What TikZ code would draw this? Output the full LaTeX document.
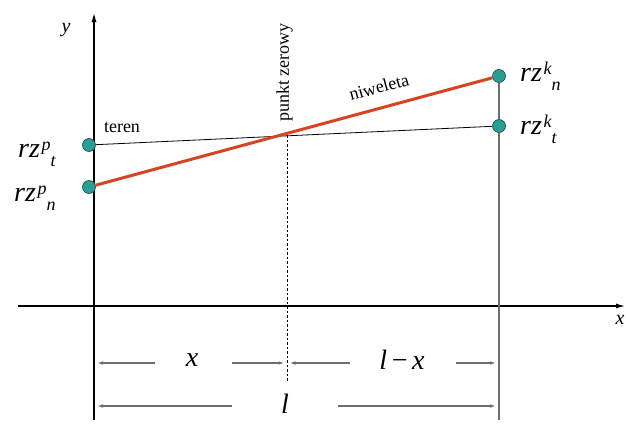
\documentclass[tikz,border=0pt]{standalone}
\usepackage{fontspec}
\setmainfont{Liberation Serif}[ItalicFont={Liberation Serif Italic}]
\newfontfamily\timesit{Liberation Serif Italic}
\usetikzlibrary{arrows.meta}
\definecolor{dotfill}{RGB}{40,158,148}
\definecolor{dotline}{RGB}{30,70,70}
\definecolor{nivred}{RGB}{215,68,35}
\definecolor{dimgray}{RGB}{110,110,110}
\newcommand{\rzlab}[2]{{\fontsize{28}{28}\selectfont\timesit rz}\,\raisebox{7pt}{\fontsize{18}{18}\selectfont\timesit #1}\raisebox{-9pt}{\fontsize{18}{18}\selectfont\timesit #2}}
\begin{document}
\begin{tikzpicture}[x=1pt,y=-1pt,
  dot/.style={circle,fill=dotfill,draw=dotline,line width=0.6pt,minimum size=13pt,inner sep=0pt},
  axisline/.style={line width=1.1pt,-{Latex[length=9pt,width=5pt]}},
  dimline/.style={dimgray,line width=1.4pt,-{Latex[length=7pt,width=3.5pt]}},
  lab/.style={inner sep=0pt,anchor=base west},
  smalltxt/.style={inner sep=0pt,font=\fontsize{18}{18}\selectfont},
  dimtxt/.style={inner sep=0pt,font=\fontsize{28}{28}\selectfont\timesit}]
\useasboundingbox (0,0) rectangle (626,423);
% axes
\coordinate (yb) at (94,420);
\coordinate (yt) at (94,13);
\coordinate (xl) at (18,306);
\coordinate (xr) at (625,306);
\draw[axisline] (yb) -- (yt);
\draw[axisline] (xl) -- (xr);
\node[inner sep=0pt,font=\fontsize{20}{20}\selectfont\timesit] (ylab) at (66,30) {y};
\node[inner sep=0pt,font=\fontsize{20}{20}\selectfont\timesit] (xlab) at (620,320) {x};
% right vertical
\coordinate (rb) at (499,420);
% dots
\node[dot] (ptp) at (89,145) {};
\node[dot] (pnp) at (89,187) {};
\node[dot] (ptk) at (499,126) {};
\node[dot] (pnk) at (499,76) {};
\draw[dimgray,line width=1.2pt] (pnk.south) -- (ptk.north);
\draw[dimgray,line width=1.2pt] (ptk.south) -- (rb);
% terrain and grade lines
\draw[line width=0.8pt] (ptp) -- (ptk);
\draw[nivred,line width=3pt] (pnp) -- (pnk);
% zero point
\coordinate (Z) at (287,135);
\coordinate (Zb) at (287,382);
\draw[line width=1pt,dash pattern=on 2.5pt off 2pt] (Z) -- (Zb);
\node[smalltxt,rotate=90,anchor=south west] (pz) at (293,122) {punkt zerowy};
\node[smalltxt] (teren) at (122,128) {teren};
\node[smalltxt,rotate=15.3] (niw) at (379,87) {niweleta};
% labels
\node[lab] (lpt) at (18,157) {\rzlab{p}{t}};
\node[lab] (lpn) at (14,201) {\rzlab{p}{n}};
\node[lab] (lkn) at (520,81) {\rzlab{k}{n}};
\node[lab] (lkt) at (520,134) {\rzlab{k}{t}};
% dimensions
\coordinate (a1) at (155,363); \coordinate (a1e) at (96,363);
\coordinate (a2) at (232,363); \coordinate (a2e) at (285.5,363);
\coordinate (a3) at (350,363); \coordinate (a3e) at (288.5,363);
\coordinate (a4) at (456,363); \coordinate (a4e) at (497,363);
\coordinate (b1) at (232,406); \coordinate (b1e) at (96,406);
\coordinate (b2) at (338,406); \coordinate (b2e) at (497,406);
\draw[dimline] (a1) -- (a1e);
\draw[dimline] (a2) -- (a2e);
\draw[dimline] (a3) -- (a3e);
\draw[dimline] (a4) -- (a4e);
\draw[dimline] (b1) -- (b1e);
\draw[dimline] (b2) -- (b2e);
\node[dimtxt] (dx) at (192,360) {x};
\node[dimtxt] (dlx) at (402,360) {l\,{\rmfamily\upshape\textminus}\,x};
\node[dimtxt] (dl) at (285,404) {l};
\end{tikzpicture}
\end{document}
